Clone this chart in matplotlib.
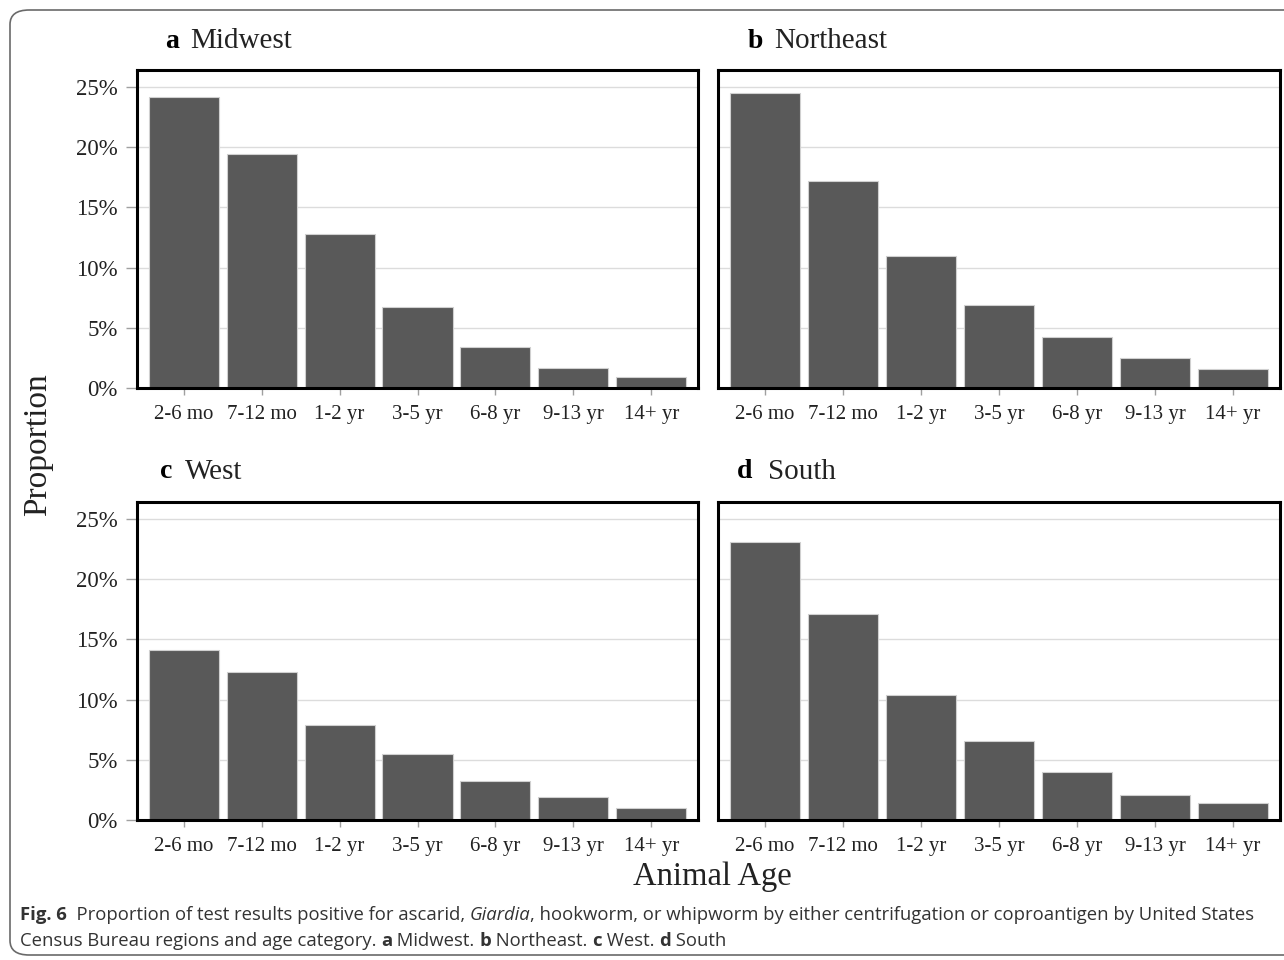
import numpy as np
import matplotlib
matplotlib.use('Agg')
import matplotlib.pyplot as plt
from matplotlib.patches import FancyBboxPatch
from matplotlib.ticker import PercentFormatter

ages = ['2-6 mo', '7-12 mo', '1-2 yr', '3-5 yr', '6-8 yr', '9-13 yr', '14+ yr']
midwest = [24.2, 19.4, 12.8, 6.7, 3.4, 1.7, 0.9]
northeast = [24.5, 17.2, 11.0, 6.9, 4.2, 2.5, 1.6]
west = [14.1, 12.3, 7.9, 5.5, 3.2, 1.9, 1.0]
south = [23.1, 17.1, 10.4, 6.6, 4.0, 2.1, 1.4]

panels = [('a', 'Midwest', midwest), ('b', 'Northeast', northeast),
          ('c', 'West', west), ('d', 'South', south)]

W, H = 1284, 960
fig = plt.figure(figsize=(W / 100, H / 100), dpi=100)
serif = 'Liberation Serif'

# axes boxes in pixels: left, top, right, bottom
boxes = [(137, 70, 698, 388), (718, 70, 1280, 388),
         (137, 502, 698, 820), (718, 502, 1280, 820)]
# title positions (letter x, name x, y)
title_pos = [(165, 190, 41), (748, 774, 41), (160, 185, 472), (737, 768, 472)]

x = np.arange(len(ages))
for i, ((letter, name, vals), (l, t, r, b), (lx, nx, ty)) in enumerate(zip(panels, boxes, title_pos)):
    ax = fig.add_axes([l / W, 1 - b / H, (r - l) / W, (b - t) / H])
    ax.bar(x, vals, width=0.9, color='#595959', edgecolor='#d0d0d0', linewidth=0.8, zorder=2)
    ax.set_xlim(-0.6, 6.6)
    ax.set_ylim(0, 26.4)
    ax.set_yticks([0, 5, 10, 15, 20, 25])
    ax.yaxis.set_major_formatter(PercentFormatter(decimals=0))
    ax.set_xticks(x)
    ax.set_xticklabels(ages)
    ax.grid(axis='y', color='#dcdcdc', linewidth=1, zorder=0)
    ax.tick_params(axis='x', length=5, width=1, color='#a0a0a0', labelsize=15, pad=7)
    ax.tick_params(axis='y', length=8, width=1, color='#a0a0a0', labelsize=16.5, pad=6)
    if i % 2 == 1:
        ax.tick_params(axis='y', left=False, labelleft=False)
    for lab in ax.get_xticklabels() + ax.get_yticklabels():
        lab.set_fontfamily(serif)
        lab.set_color('#222222')
    for s in ax.spines.values():
        s.set_linewidth(2.2)
        s.set_color('black')
    fig.text(lx / W, 1 - ty / H, letter, fontfamily=serif, fontweight='bold',
             fontsize=20, va='center', ha='left')
    fig.text(nx / W, 1 - ty / H, name, fontfamily=serif, fontsize=21,
             va='center', ha='left', color='#222222')

fig.text(38 / W, 1 - 445 / H, 'Proportion', fontfamily=serif, fontsize=24,
         rotation=90, va='center', ha='center', color='#222222')
fig.text(712 / W, 1 - 877 / H, 'Animal Age', fontfamily=serif, fontsize=23.5,
         va='center', ha='center', color='#222222')

# rounded frame round the figure
frame = FancyBboxPatch((10 / W, 5 / H), 1300 / W, 945 / H,
                       boxstyle='round,pad=0,rounding_size=0.015',
                       transform=fig.transFigure, fill=False,
                       edgecolor='#6a6a6a', linewidth=1.2, clip_on=False)
fig.patches.append(frame)

# caption, drawn piece by piece to mix bold and italic
renderer = fig.canvas.get_renderer()
cap_font = 'Open Sans'
cap_size = 13.3
lines = [
    [('Fig. 6', 'bold', 'normal'),
     ('  Proportion of test results positive for ascarid, ', 'normal', 'normal'),
     ('Giardia', 'normal', 'italic'),
     (', hookworm, or whipworm by either centrifugation or coproantigen by United States', 'normal', 'normal')],
    [('Census Bureau regions and age category. ', 'normal', 'normal'),
     ('a', 'bold', 'normal'), (' Midwest. ', 'normal', 'normal'),
     ('b', 'bold', 'normal'), (' Northeast. ', 'normal', 'normal'),
     ('c', 'bold', 'normal'), (' West. ', 'normal', 'normal'),
     ('d', 'bold', 'normal'), (' South', 'normal', 'normal')],
]
for yy, parts in zip([915, 941], lines):
    xp = 20
    for txt, wt, st in parts:
        t = fig.text(xp / W, 1 - yy / H, txt, fontfamily=cap_font, fontsize=cap_size,
                     fontweight=wt, fontstyle=st, va='center', ha='left', color='#333333')
        bb = t.get_window_extent(renderer)
        xp += bb.width

fig.savefig('out.png', dpi=100)
